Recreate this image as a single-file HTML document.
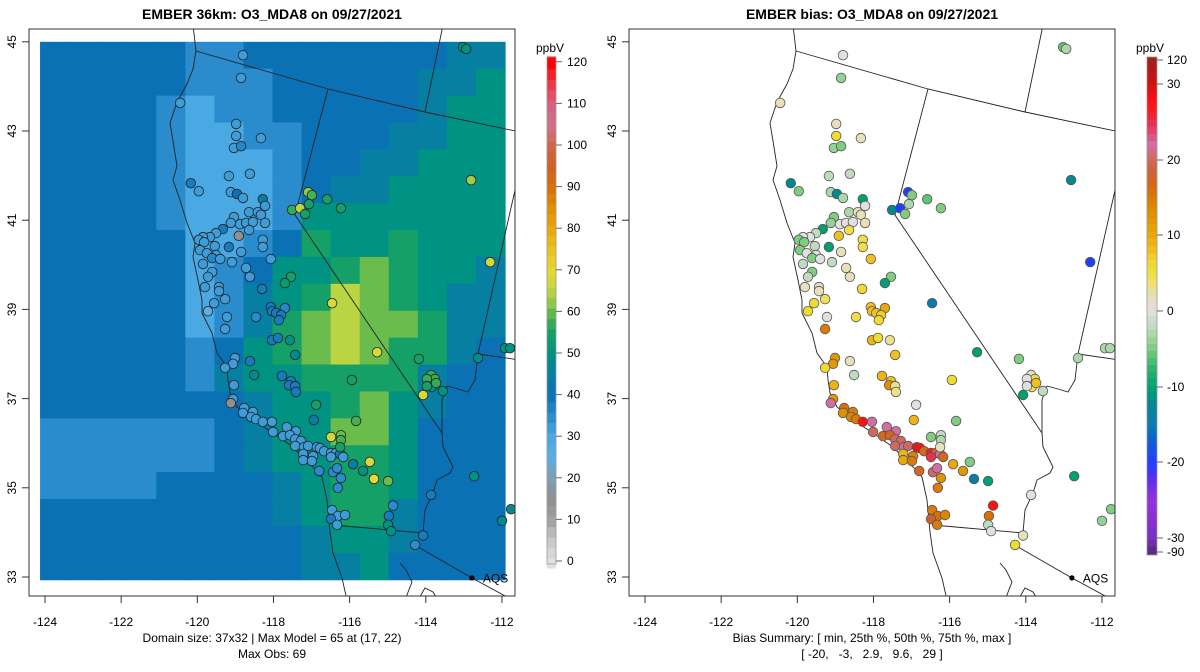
<!DOCTYPE html>
<html><head><meta charset="utf-8">
<style>
html,body{margin:0;padding:0;background:#fff;}
svg{display:block;font-family:"Liberation Sans",sans-serif;}
</style></head>
<body>
<svg id="chart" width="1200" height="672" viewBox="0 0 1200 672" xmlns="http://www.w3.org/2000/svg">
<defs>
<clipPath id="clipL"><rect x="29" y="29" width="486" height="567"/></clipPath>
<clipPath id="clipR"><rect x="629" y="29" width="486" height="567"/></clipPath>
</defs>
<text x="272" y="19" text-anchor="middle" font-size="14" font-weight="bold">EMBER 36km: O3_MDA8 on 09/27/2021</text>
<text x="872" y="19" text-anchor="middle" font-size="14" font-weight="bold">EMBER bias: O3_MDA8 on 09/27/2021</text>
<g id="leftPanel"></g>
<g id="rightPanel"></g>
<g id="cbL"></g>
<g id="cbR"></g>
<text x="272" y="642" text-anchor="middle" font-size="12">Domain size: 37x32 | Max Model = 65 at (17, 22)</text>
<text x="272" y="658" text-anchor="middle" font-size="12">Max Obs: 69</text>
<text x="872" y="642" text-anchor="middle" font-size="12">Bias Summary: [ min, 25th %, 50th %, 75th %, max ]</text>
<text x="872" y="658" text-anchor="middle" font-size="12" xml:space="preserve">[ -20,   -3,   2.9,   9.6,   29 ]</text>
</svg>
<script>
// ---- data ----
const gridRows = [
"4444433444444455","4444433344444556","4444323344444566","4444322334445566",
"4444322234455666","4444322234556666","4444322236666666","4444422347667666",
"4444423466787665","4444423567987655","4444423578988755","4444434678987754",
"4444435667777544","4444444566786544","3333334566886444","3333334566776444",
"3333444456776444","4444444456775444","4444444445665444","4444444445564444"];
const siteLon = [-120.17,-119.96,-119.12,-118.96,-118.80,-118.28,-118.22,-118.64,-118.41,-118.33,-119.04,-119.12,-118.88,-118.72,-118.54,-118.22,-119.33,-119.51,-118.64,-119.67,-119.85,-119.96,-119.82,-118.91,-119.54,-119.17,-119.93,-119.75,-119.51,-119.61,-119.40,-119.85,-119.09,-118.85,-118.28,-118.28,-118.07,-119.61,-119.72,-118.72,-118.62,-117.54,-117.70,-119.80,-119.43,-119.43,-118.30,-119.56,-119.27,-119.72,-119.22,-118.46,-119.27,-118.07,-118.04,-117.93,-117.70,-117.80,-117.86,-116.46,-118.04,-117.88,-117.57,-117.43,-119.01,-119.06,-119.27,-118.62,-118.51,-117.78,-117.54,-117.59,-117.43,-117.41,-119.04,-115.94,-115.28,-114.18,-113.86,-113.76,-113.97,-113.84,-113.73,-113.97,-113.55,-114.07,-119.06,-119.12,-118.77,-118.54,-118.80,-118.59,-118.46,-118.28,-118.04,-118.01,-117.65,-117.41,-117.75,-117.57,-117.43,-117.28,-117.43,-117.20,-117.09,-116.86,-116.78,-116.67,-116.49,-116.36,-116.25,-116.17,-116.49,-116.94,-116.88,-115.83,-116.49,-116.23,-116.23,-116.25,-117.22,-116.96,-117.22,-116.99,-116.80,-116.44,-116.33,-116.23,-116.31,-115.91,-115.65,-115.47,-115.36,-114.99,-113.86,-118.80,-118.85,-120.45,-118.98,-118.98,-118.33,-119.04,-118.85,-119.17,-118.62,-117.09,-116.99,-117.07,-117.51,-117.30,-117.17,-116.59,-116.23,-112.81,-113.02,-112.94,-112.31,-111.92,-111.79,-112.63,-112.73,-112.00,-111.76,-116.46,-116.31,-116.12,-116.49,-116.33,-114.86,-114.97,-114.99,-114.91,-114.07,-114.28];
const siteLat = [41.83,41.65,41.63,41.59,41.50,41.47,41.32,41.18,41.18,41.12,41.07,40.94,40.91,40.94,40.96,40.94,40.80,40.71,40.78,40.62,40.62,40.56,40.51,40.65,40.42,40.40,40.33,40.26,40.22,40.15,40.13,40.02,40.06,40.29,40.56,40.40,40.13,39.84,39.73,39.93,39.73,39.73,39.59,39.50,39.50,39.41,39.46,39.14,39.23,38.96,38.83,38.83,38.56,39.05,38.96,38.92,39.03,38.87,38.76,39.14,38.31,38.36,38.31,37.98,37.91,37.78,37.69,37.84,37.53,37.51,37.39,37.30,37.28,37.15,37.30,37.42,38.04,37.89,37.53,37.44,37.44,37.26,37.35,37.28,37.17,37.08,36.99,36.90,36.79,36.70,36.68,36.59,36.54,36.48,36.48,36.25,36.36,36.27,36.16,36.18,36.09,36.05,35.94,35.91,35.94,35.91,35.89,35.82,35.78,35.78,35.76,35.69,35.69,36.52,36.86,36.50,36.14,36.18,36.07,35.91,35.76,35.71,35.62,35.60,35.38,35.35,35.44,35.22,35.00,35.53,35.38,35.58,35.20,35.15,34.84,44.70,44.19,43.63,43.16,42.89,42.84,42.62,42.66,41.99,42.04,41.63,41.56,41.36,41.23,41.27,41.14,41.47,41.27,41.90,44.88,44.84,40.06,38.13,38.13,37.91,35.26,34.26,34.52,34.50,34.37,34.39,34.30,34.17,34.60,34.37,34.17,34.03,33.93,33.72];
const obsValues = [38,32,32,40,32,45,32,32,32,32,32,32,32,32,32,32,38,32,32,32,32,32,32,15,32,38,32,32,32,36,32,32,32,32,32,32,32,32,32,32,32,55,53,32,32,32,38,32,32,25,32,35,32,38,38,38,36,38,38,68,38,38,50,48,32,32,32,38,48,38,38,38,38,38,32,55,68,55,57,58,57,50,57,55,50,68,32,15,32,32,32,32,32,32,32,32,32,32,32,32,32,32,32,32,32,32,32,32,32,32,38,32,32,45,55,58,67,60,58,55,32,32,32,32,35,35,35,35,35,45,50,68,70,60,38,32,32,32,32,32,32,32,36,32,32,62,58,55,57,65,55,55,55,63,50,50,67,50,50,48,50,48,48,32,32,32,38,32,35,38,50,50,38,35];
const biasValues = [-12,-5,-3,-12,-3,-10,0,-3,2,2,-5,-4,0,0,0,2,-10,-2,5,0,0,-5,-5,8,-2,-10,-5,0,0,-5,0,-2,-2,2,5,5,8,-5,-2,2,2,-5,-10,2,2,2,6,6,4,6,0,5,15,8,8,8,10,7,6,-15,9,6,3,8,12,12,6,2,-2,9,8,13,3,3,9,6,-10,-5,2,5,0,5,8,0,-2,-10,12,22,16,15,13,14,15,28,22,20,22,22,17,17,20,20,20,22,20,28,28,17,27,17,22,17,25,9,0,-5,-5,-2,-3,2,9,14,10,15,17,20,22,13,15,10,12,-5,-15,-10,0,0,-4,2,2,6,2,-4,-5,-2,-2,-20,-5,-3,-12,-20,-5,-6,-5,-12,-6,-3,-20,-3,-3,-3,-10,-4,-5,15,16,14,18,15,28,16,-2,0,2,6];
const obsTicks = [0,10,20,30,40,50,60,70,80,90,100,110,120];
const biasTicks = [-90,-30,-20,-10,0,10,20,30,120];
const lonTicks = [-124,-122,-120,-118,-116,-114,-112];
const latTicks = [33,35,37,39,41,43,45];

// ---- scales ----
const xS = (lon, off) => 45 + (lon + 124) * 38.08 + off;
const yS = lat => 577 - (lat - 33) * 44.6;
const NS = "http://www.w3.org/2000/svg";
function mk(tag, attrs, parent){const e=document.createElementNS(NS,tag);for(const k in attrs)e.setAttribute(k,attrs[k]);parent.appendChild(e);return e;}
function hex(c){return [parseInt(c.slice(1,3),16),parseInt(c.slice(3,5),16),parseInt(c.slice(5,7),16)];}
function interp(stops,v){
  if(v<=stops[0][0])return stops[0][1];
  for(let i=1;i<stops.length;i++){if(v<=stops[i][0]){const a=stops[i-1],b=stops[i];const t=(v-a[0])/(b[0]-a[0]);const A=hex(a[1]),B=hex(b[1]);return "rgb("+A.map((x,j)=>Math.round(x+(B[j]-x)*t)).join(",")+")";}}
  return stops[stops.length-1][1];
}
const obsStops=[[0,"#e0e0e0"],[5,"#c8c8c8"],[10,"#a0a0a0"],[15,"#909090"],[20,"#7f9fb4"],[25,"#58b0e4"],[30,"#4aa8e2"],[35,"#2a8ccc"],[40,"#0a72b4"],[45,"#077fa2"],[50,"#009282"],[55,"#14a066"],[58,"#44b050"],[62,"#90c848"],[66,"#c8d840"],[70,"#e8d830"],[75,"#ecc020"],[80,"#e8a808"],[85,"#e09000"],[90,"#d87008"],[95,"#d06020"],[100,"#d06848"],[105,"#d07090"],[110,"#d86080"],[114,"#e84050"],[120,"#ff0000"]];
const biasStops=[[-90,"#5a2a80"],[-30,"#7a30c0"],[-25,"#9a30e0"],[-22,"#5030f0"],[-20,"#2040ff"],[-17,"#1060d0"],[-15,"#0a7ab0"],[-12,"#008a90"],[-10,"#00a070"],[-7,"#40b870"],[-5,"#80cc80"],[-2,"#c0dcc0"],[0,"#e0e0e0"],[2,"#e8e0b8"],[4,"#f0e060"],[6,"#f0dc30"],[8,"#f0c020"],[10,"#e8a808"],[13,"#e09000"],[16,"#d87008"],[18,"#d06030"],[20,"#d06860"],[22,"#d070a0"],[24,"#e04070"],[26,"#f02030"],[28,"#ff1010"],[30,"#d01010"],[120,"#a02020"]];

// ---- geography (pixel outlines of left panel) ----
const geo = {
 coast:[[193,25],[196,51],[193,69],[187,84],[177,102],[170,123],[173,141],[177,166],[173,180],[180,200],[187,223],[195,243],[193,257],[198,280],[202,300],[202,313],[212,333],[217,353],[227,367],[228,380],[230,393],[237,407],[253,420],[273,433],[293,447],[303,457],[313,467],[322,477],[327,500],[330,532],[333,553],[342,578],[347,600]],
 orca:[[196,51],[328,89],[425,112],[520,132]],
 orid:[[425,112],[443,25]],
 canv:[[328,89],[295,215],[442,433]],
 river:[[442,433],[443,447],[453,467],[450,473],[437,480],[433,493],[425,510],[423,533],[418,535]],
 mex:[[333,525],[423,533]],
 azmex:[[418,547],[472,578],[520,604]],
 nvut:[[520,168],[478,354]],
 utaz:[[478,354],[520,360]],
 mead:[[478,354],[475,380],[468,392],[458,389],[447,386],[442,400],[442,433]],
 gulf1:[[400,563],[406,570],[412,582],[405,600]],
 gulf2:[[418,600],[425,588],[433,592],[438,600]]
};

function drawPanel(g, off, isBias){
  const clip = off? "url(#clipR)":"url(#clipL)";
  const body = mk("g",{"clip-path":clip},g);
  if(!isBias){
    const hm = mk("g",{},body);
    
    
    const lon0=-124.13, lon1=-111.92, lat0=45.0, lat1=32.94;
    const nc=gridRows[0].length, nr=gridRows.length;
    for(let r=0;r<nr;r++)for(let c=0;c<nc;c++){
      const v=20+5*Number(gridRows[r][c]);
      const la=lon0+(lon1-lon0)*c/nc, lb=lon0+(lon1-lon0)*(c+1)/nc;
      const ta=lat0+(lat1-lat0)*r/nr, tb=lat0+(lat1-lat0)*(r+1)/nr;
      const x=xS(la,off), y=yS(ta);
      const cell=mk("rect",{x:x.toFixed(2),y:y.toFixed(2),width:(xS(lb,off)-x+0.6).toFixed(2),height:(yS(tb)-y+0.6).toFixed(2),fill:interp(obsStops,v)},hm);
      
      
    }
  }
  const gg = mk("g",{transform:"translate("+off+",0)",fill:"none",stroke:"#222","stroke-width":"0.9"},body);
  
  
  for(const k in geo){
    const p=mk("path",{d:"M"+geo[k].map(q=>q.join(",")).join("L")},gg);
    
    
  }
  const pts = mk("g",{},body);
  
  
  for(let i=0;i<siteLon.length;i++){
    const v = isBias? biasValues[i] : obsValues[i];
    const c=mk("circle",{cx:xS(siteLon[i],off).toFixed(1),cy:yS(siteLat[i]).toFixed(1),r:"4.8",fill:interp(isBias?biasStops:obsStops,v),stroke:isBias?"#555":"#222","stroke-width":"0.8"},pts);
    
    
  }
  const aq=mk("circle",{cx:xS(-112.79,off),cy:yS(32.98),r:"2.6",fill:"#000"},body);
  
  
  const at=mk("text",{x:xS(-112.79,off)+11,y:yS(32.98)+4.5,"font-size":"12"},body);
  at.textContent="AQS";
  
  
  const fr=mk("rect",{x:29+off,y:29,width:486,height:567,fill:"none",stroke:"#333","stroke-width":"1"},g);
  
  
  for(const t of lonTicks){
    const x=xS(t,off);
    const tk=mk("line",{x1:x,x2:x,y1:596,y2:603,stroke:"#333"},g);
    
    
    const tl=mk("text",{x:x,y:626,"text-anchor":"middle","font-size":"12"},g);
    tl.textContent=String(t);
    
    
  }
  for(const t of latTicks){
    const y=yS(t);
    const tk=mk("line",{x1:22+off,x2:29+off,y1:y,y2:y,stroke:"#333"},g);
    
    
    const tl=mk("text",{x:0,y:0,"text-anchor":"middle","font-size":"12",transform:"translate("+(16+off)+","+y+") rotate(-90)"},g);
    tl.textContent=String(t);
    
    
  }
}
drawPanel(document.getElementById("leftPanel"),0,false);
drawPanel(document.getElementById("rightPanel"),600,true);

// ---- colorbars ----
function cbObs(){
  const g=document.getElementById("cbL");
  const vy=v=>561-v*4.16;
  for(let v=-1.7;v<121.3;v+=2.5){
    const r=mk("rect",{x:547,y:vy(Math.min(v+2.5,121.3)).toFixed(2),width:9,height:(2.5*4.16+0.5).toFixed(2),fill:interp(obsStops,v+1.25)},g);
    
    
  }
  mk("rect",{x:547,y:57,width:9,height:507,fill:"none",stroke:"#999","stroke-width":"0.8"},g);
  for(const t of obsTicks){
    mk("line",{x1:556,x2:562,y1:vy(t),y2:vy(t),stroke:"#666"},g);
    const tl=mk("text",{x:567,y:vy(t)+4,"font-size":"12"},g);
    tl.textContent=String(t);
    
    
  }
  const u=mk("text",{x:550,y:52,"text-anchor":"middle","font-size":"12"},g);
  u.textContent="ppbV";
  
  
}
function cbBias(){
  const g=document.getElementById("cbR");
  const P=[[120,60],[30,84],[20,160],[10,235],[0,311],[-10,387],[-20,462],[-30,538],[-90,552]];
  const vy=v=>{for(let i=1;i<P.length;i++){if(v>=P[i][0]){const a=P[i-1],b=P[i];return a[1]+(b[1]-a[1])*(a[0]-v)/(a[0]-b[0]);}}return 555;};
  const yv=y=>{for(let i=1;i<P.length;i++){if(y<=P[i][1]){const a=P[i-1],b=P[i];return a[0]+(b[0]-a[0])*(y-a[1])/(b[1]-a[1]);}}return -95;};
  for(let y=57;y<555;y+=7){
    const r=mk("rect",{x:1147,y:y,width:10,height:Math.min(7.5,555-y),fill:interp(biasStops,yv(y+3.5))},g);
    
    
  }
  mk("rect",{x:1147,y:57,width:10,height:498,fill:"none",stroke:"#999","stroke-width":"0.8"},g);
  for(const t of biasTicks){
    mk("line",{x1:1157,x2:1163,y1:vy(t),y2:vy(t),stroke:"#666"},g);
    const tl=mk("text",{x:1167,y:vy(t)+4,"font-size":"12"},g);
    tl.textContent=String(t);
    
    
  }
  const u=mk("text",{x:1150,y:52,"text-anchor":"middle","font-size":"12"},g);
  u.textContent="ppbV";
  
  
}
cbObs(); cbBias();
</script>
</body></html>
